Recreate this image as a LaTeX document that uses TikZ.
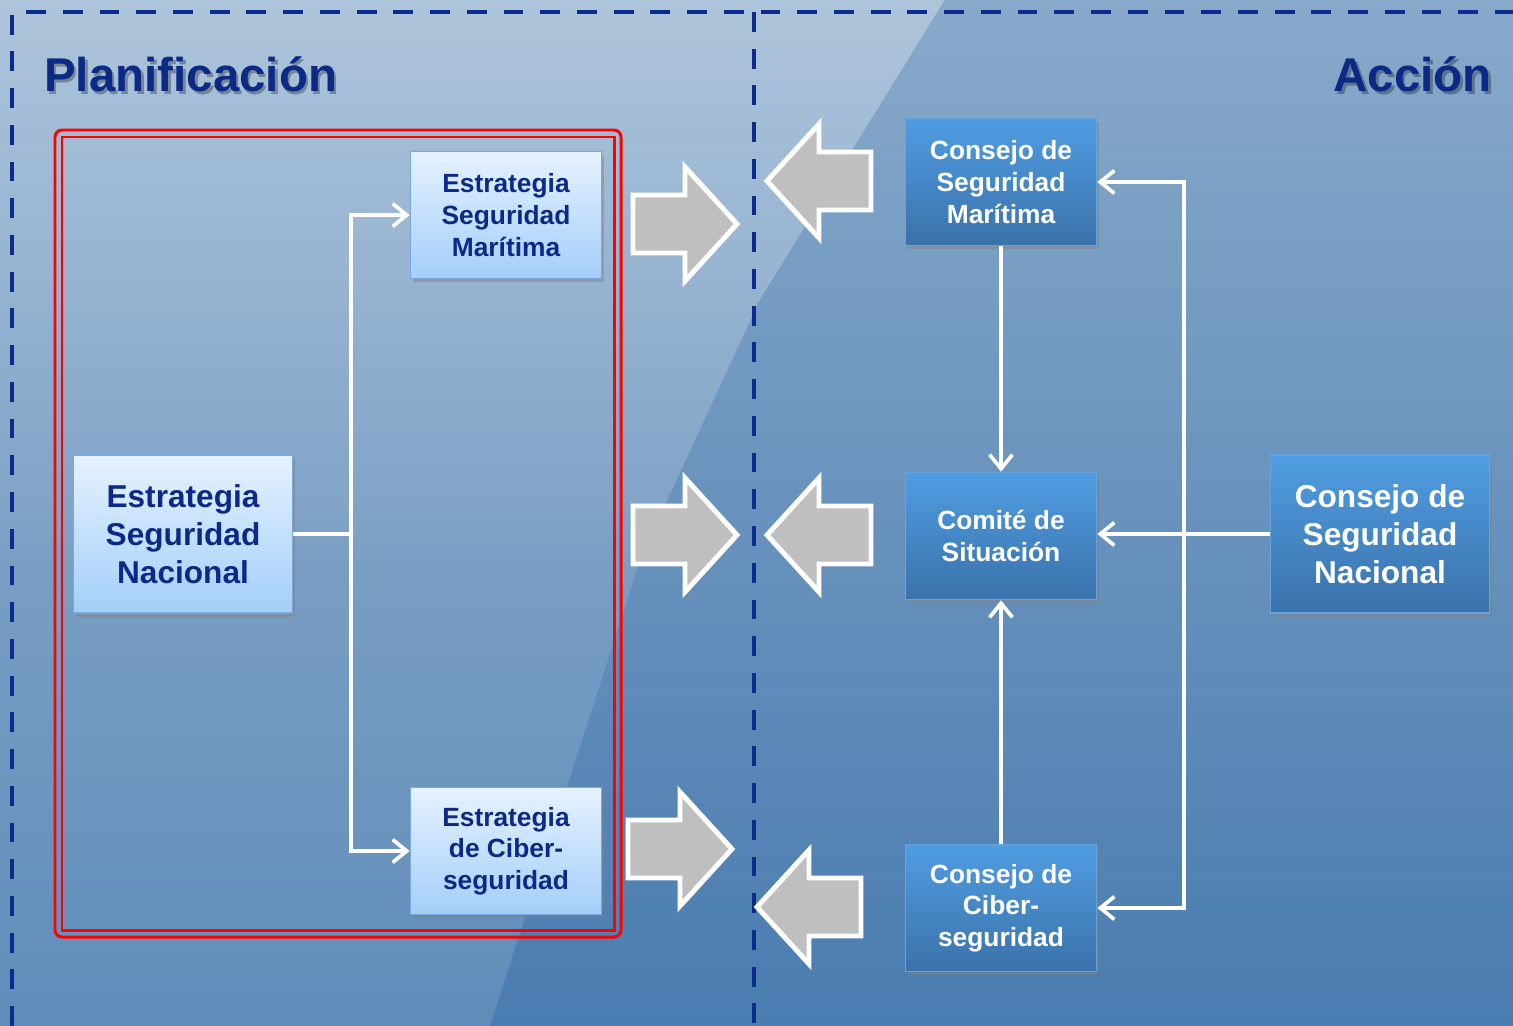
\documentclass[tikz,border=0pt]{standalone}
\usepackage{fontspec}
\setmainfont{Liberation Sans}
\usepackage{tikz}
\usetikzlibrary{arrows.meta,
shadows,
fadings
}
\definecolor{navy}{HTML}{0A2A86}
\definecolor{dashblue}{HTML}{0B2C8C}
\definecolor{arrowgrey}{HTML}{BFBFBF}
\definecolor{lighttop}{HTML}{E6F2FF}
\definecolor{lightbot}{HTML}{A3CEF9}
\definecolor{lightedge}{HTML}{78A8DE}
\definecolor{darktop}{HTML}{509DE2}
\definecolor{darkbot}{HTML}{3A72AA}
\definecolor{darkedge}{HTML}{66A4E0}
\definecolor{bgtop}{HTML}{88A9CA}
\definecolor{bgmid}{HTML}{6393C1}
\definecolor{bgbot}{HTML}{497CB0}
\tikzfading[name=sheenfade, top color=transparent!35, middle color=transparent!0, bottom color=transparent!72]
\tikzset{>={Straight Barb[length=8pt,width=13pt]}}
\tikzset{
  lightbox/.style={draw=lightedge, line width=1pt, top color=lighttop, bottom color=lightbot,
    text=navy, font=\bfseries\fontsize{15}{18}\selectfont, align=center, inner sep=0pt,
    minimum width=3.82cm, minimum height=2.54cm,
    drop shadow={shadow xshift=1.5pt, shadow yshift=-2pt, opacity=0.45}},
  darkbox/.style={lightbox, draw=darkedge, top color=darktop, bottom color=darkbot, text=white},
  bigbox/.style={font=\bfseries\fontsize{18}{21.8}\selectfont, minimum width=4.38cm, minimum height=3.16cm},
  title/.style={text=navy, font=\bfseries\fontsize{27}{32}\selectfont, inner sep=0pt},
  titleshadow/.style={title, text=black, opacity=0.3},
  dashline/.style={dashblue, line width=2.3pt, dash pattern=on 11.3pt off 9.6pt},
  redline/.style={red, line width=1.7pt},
  link/.style={white, line width=2.1pt},
  blockarrow/.style={fill=arrowgrey, draw=white, line width=2.8pt, line join=miter},
  fatarrow/.pic={\filldraw[blockarrow] (0,0) -- (-52,-57) -- (-52,-29) -- (-104,-29)
    -- (-104,29) -- (-52,29) -- (-52,57) -- cycle;}
}

\begin{document}
\begin{tikzpicture}[x=0.02cm, y=-0.02cm]
    \useasboundingbox (0,0) rectangle (1513,1026);
    \shade[top color=bgtop, middle color=bgmid, bottom color=bgbot] (0,0) rectangle (1513,1026);
    % light sheen on the left half
    \fill[white, fill opacity=0.5, path fading=sheenfade] (0,0) -- (945,0) -- (760,300)
        -- (640,560) -- (0,560) -- cycle;
    \fill[white, fill opacity=0.13] (640,560) -- (490,1026) -- (0,1026) -- (0,560) -- cycle;

    \draw[dashline] (12,1026) -- (12,12) -- (1513,12);
    \draw[dashline] (754,12) -- (754,1026);

    \node[titleshadow, anchor=base west] (planshadow) at (46.5,94.5) {Planificación};
    \node[title, anchor=base west] (plan) at (44,92) {Planificación};
    \node[titleshadow, anchor=base east] (accionshadow) at (1494.5,94.5) {Acción};
    \node[title, anchor=base east] (accion) at (1492,92) {Acción};

    \draw[redline, rounded corners=4pt] (55,130) rectangle (621,937);
    \draw[redline] (62,137) rectangle (614,930);

    \node[lightbox, bigbox] (esn) at (183,534) {Estrategia\\Seguridad\\Nacional};
    \node[lightbox] (esm) at (506,215) {Estrategia\\Seguridad\\Marítima};
    \node[lightbox] (ecs) at (506,851) {Estrategia\\de Ciber-\\seguridad};

    \node[darkbox] (csm) at (1001,182) {Consejo de\\Seguridad\\Marítima};
    \node[darkbox] (cds) at (1001,536) {Comité de\\Situación};
    \node[darkbox] (ccs) at (1001,908) {Consejo de\\Ciber-\\seguridad};
    \node[darkbox, bigbox] (csn) at (1380,534) {Consejo de\\Seguridad\\Nacional};

    \coordinate (split) at (351,534);
    \coordinate (hub) at (1184,534);

    \draw[link] (esn) -- (split);
    \draw[link, ->] (split) |- (esm);
    \draw[link, ->] (split) |- (ecs);

    \draw[link] (csn) -- (hub);
    \draw[link, ->] (hub) |- (csm);
    \draw[link, ->] (hub) -- (hub -| cds.east);
    \draw[link, ->] (hub) |- (ccs);
    \draw[link, ->] (csm) -- (cds);
    \draw[link, ->] (ccs) -- (cds);

    \pic at (737,224) {fatarrow};
    \pic[rotate=180] at (767,181) {fatarrow};
    \pic at (737,535) {fatarrow};
    \pic[rotate=180] at (767,535) {fatarrow};
    \pic at (732,849) {fatarrow};
    \pic[rotate=180] at (757,907) {fatarrow};
\end{tikzpicture}
\end{document}
